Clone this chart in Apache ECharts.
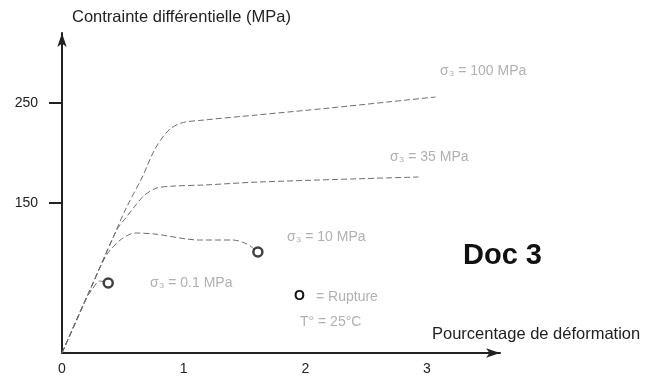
<!DOCTYPE html>
<html>
<head>
<meta charset="utf-8">
<script src="https://cdn.jsdelivr.net/npm/echarts@6/dist/echarts.min.js"></script>
<style>
  html, body {margin: 0; padding: 0; background: #fff;}
  #main {width: 649px; height: 383px;}
</style>
</head>
<body>
<div id="main"></div>
<script>
// courbes contrainte / deformation, [deformation %, contrainte MPa]
const curve100 = [[0, 0], [0.23, 63], [0.35, 96], [0.52, 143], [0.66, 176], [0.76, 203], [0.87, 222], [0.98, 230], [1.17, 233], [1.6, 238], [2.2, 245], [3.07, 256]];
const curve35 = [[0, 0], [0.23, 63], [0.45, 123], [0.53, 136], [0.6, 147], [0.68, 158], [0.78, 165], [0.93, 167], [1.17, 168], [1.62, 171], [2.93, 176]];
const curve10 = [[0, 0], [0.23, 63], [0.33, 90], [0.39, 102], [0.49, 114], [0.6, 120], [0.76, 119], [1.13, 113], [1.4, 113], [1.52, 109], [1.61, 101]];
const curve01 = [[0, 0], [0.2, 55], [0.25, 64], [0.31, 72], [0.38, 70]];
const yTicks = [150, 250];
const xTicks = [0, 1, 2, 3];
const curveLabels = ['σ₃ = 100 MPa', 'σ₃ = 35 MPa', 'σ₃ = 10 MPa', 'σ₃ = 0.1 MPa'];

const ruptures = [curve10[curve10.length - 1], curve01[curve01.length - 1]];

const myChart = echarts.init(document.getElementById('main'));
const font = 'Liberation Sans, Arial, sans-serif';
const dash = {color: '#6e6e6e', width: 1, type: [6, 3]};
const labelStyle = {fill: '#b0b0b0', font: '14px ' + font};

const lineSeries = (data) => ({
  type: 'line',
  data: data,
  smooth: 0.3,
  showSymbol: false,
  lineStyle: dash,
  silent: true,
});

const option = {
  animation: false,
  grid: {left: 62, right: 149, top: 33, bottom: 30},
  xAxis: {
    type: 'value',
    min: 0,
    max: 3.6,
    splitLine: {show: false},
    axisLine: {lineStyle: {color: '#222', width: 2}, symbol: ['none', 'arrow'], symbolSize: [7, 14]},
    axisTick: {show: false},
    axisLabel: {customValues: xTicks, color: '#222', fontSize: 14, fontFamily: font, margin: 9},
    name: 'Pourcentage de déformation',
    nameLocation: 'end',
    nameGap: -68,
    nameTextStyle: {align: 'left', verticalAlign: 'bottom', padding: [0, 0, 10, 0], color: '#222', fontSize: 16.5, fontFamily: font},
  },
  yAxis: {
    type: 'value',
    min: 0,
    max: 320,
    splitLine: {show: false},
    axisLine: {lineStyle: {color: '#222', width: 2}, symbol: ['none', 'arrow'], symbolSize: [7, 14]},
    axisTick: {customValues: yTicks, length: 13, lineStyle: {color: '#222', width: 2}},
    axisLabel: {customValues: yTicks, color: '#222', fontSize: 14, fontFamily: font, margin: 24},
    name: 'Contrainte différentielle (MPa)',
    nameLocation: 'end',
    nameGap: 7,
    nameTextStyle: {align: 'left', padding: [0, 0, 0, 10], color: '#222', fontSize: 16.5, fontFamily: font},
  },
  series: [
    lineSeries(curve100),
    lineSeries(curve35),
    lineSeries(curve10),
    lineSeries(curve01),
    {
      type: 'scatter',
      data: ruptures,
      symbol: 'circle',
      symbolSize: 9,
      itemStyle: {color: '#fff', borderColor: '#111', borderWidth: 2.5},
      silent: true,
      z: 5,
    },
  ],
  graphic: [
    {type: 'text', left: 440, top: 64, style: Object.assign({text: curveLabels[0]}, labelStyle)},
    {type: 'text', left: 390, top: 150, style: Object.assign({text: curveLabels[1]}, labelStyle)},
    {type: 'text', left: 287, top: 230, style: Object.assign({text: curveLabels[2]}, labelStyle)},
    {type: 'text', left: 150, top: 276, style: Object.assign({text: curveLabels[3]}, labelStyle)},
    {type: 'text', left: 294, top: 289, style: {text: 'O', fill: '#111', font: 'bold 14px ' + font}},
    {type: 'text', left: 316, top: 290, style: Object.assign({text: '= Rupture'}, labelStyle)},
    {type: 'text', left: 300, top: 315, style: Object.assign({text: 'T° = 25°C'}, labelStyle)},
    {type: 'text', left: 463, top: 241, style: {text: 'Doc 3', fill: '#111', font: 'bold 29px ' + font}},
  ],
};
myChart.setOption(option);
</script>
</body>
</html>
